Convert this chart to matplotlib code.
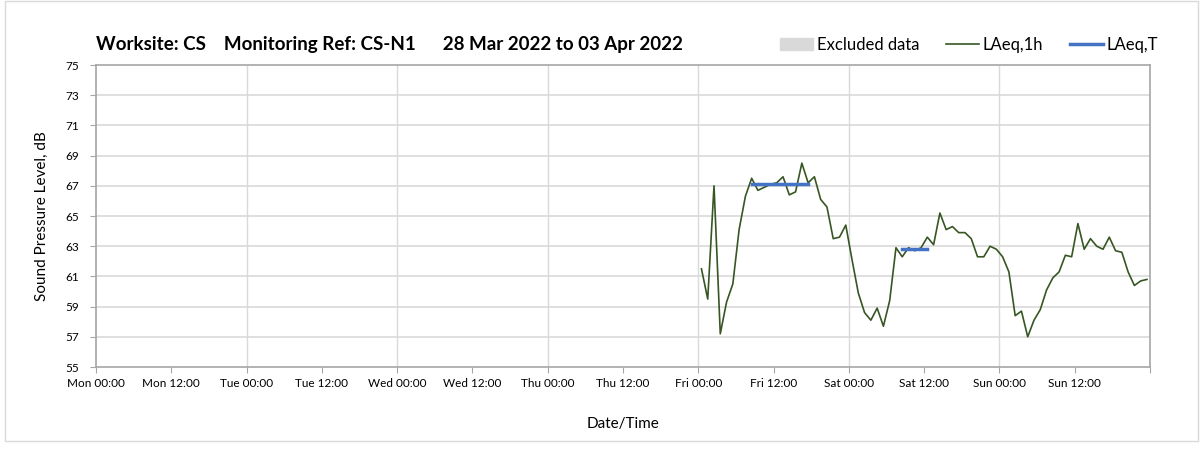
import matplotlib.pyplot as plt
import matplotlib.patches as mpatches
from matplotlib.lines import Line2D
import numpy as np

plt.rcParams['font.family'] = ['Lato', 'DejaVu Sans']

# hourly LAeq,1h values from Fri 00:00 to Sun 23:00 (plotted at mid-hour)
start_hour = 96
laeq_1h = [
    61.5, 59.5, 67.0, 57.2, 59.3, 60.5, 64.1, 66.3, 67.5, 66.7, 66.9, 67.1,
    67.2, 67.6, 66.4, 66.6, 68.5, 67.2, 67.6, 66.1, 65.6, 63.5, 63.6, 64.4,
    62.1, 59.9, 58.6, 58.1, 58.9, 57.7, 59.4, 62.9, 62.3, 62.9, 62.7, 62.9,
    63.6, 63.1, 65.2, 64.1, 64.3, 63.9, 63.9, 63.5, 62.3, 62.3, 63.0, 62.8,
    62.3, 61.3, 58.4, 58.7, 57.0, 58.1, 58.8, 60.1, 60.9, 61.3, 62.4, 62.3,
    64.5, 62.8, 63.5, 63.0, 62.8, 63.6, 62.7, 62.6, 61.3, 60.4, 60.7, 60.8,
]

# LAeq,T over working periods: (first hour, last hour, level)
laeq_t_periods = [(104, 113, 67.1), (128, 132, 62.8)]

tick_labels = ['Mon 00:00', 'Mon 12:00', 'Tue 00:00', 'Tue 12:00', 'Wed 00:00',
               'Wed 12:00', 'Thu 00:00', 'Thu 12:00', 'Fri 00:00', 'Fri 12:00',
               'Sat 00:00', 'Sat 12:00', 'Sun 00:00', 'Sun 12:00', '']

green = '#375623'
blue = '#4472C4'
grid_c = '#D9D9D9'
axis_c = '#A6A6A6'

fig = plt.figure(figsize=(12.03, 4.49), dpi=100)
ax = fig.add_axes([0.0798, 0.1826, 0.8762, 0.6726])

# outer chart border
fig.patches.append(mpatches.Rectangle((0.004, 0.018), 0.992, 0.98, transform=fig.transFigure,
                                      fill=False, edgecolor='#D9D9D9', linewidth=1))

hours = start_hour + 0.5 + np.arange(len(laeq_1h))
ax.plot(hours, laeq_1h, color=green, linewidth=1.2, zorder=3)

for h0, h1, lvl in laeq_t_periods:
    ax.plot([h0 + 0.5, h1 + 0.5], [lvl, lvl], color=blue, linewidth=2.5, zorder=4)

ax.set_xlim(0, 168)
ax.set_ylim(55, 75)
ax.set_xticks(np.arange(0, 169, 12))
ax.set_xticklabels(tick_labels, fontsize=8.5)
ax.set_yticks(np.arange(55, 76, 2))
ax.tick_params(axis='y', labelsize=8.5, length=4, color=axis_c, direction='out', pad=8)
ax.tick_params(axis='x', length=4, color=axis_c, direction='out', pad=4)

# vertical grid every 24h, horizontal every 2 dB
for x in range(24, 168, 24):
    ax.axvline(x, color=grid_c, linewidth=1, zorder=1)
for y in range(57, 75, 2):
    ax.axhline(y, color=grid_c, linewidth=1.2, zorder=1)

for s in ax.spines.values():
    s.set_color(axis_c)
    s.set_linewidth(1.2)

ax.set_ylabel('Sound Pressure Level, dB', fontsize=11, labelpad=12)
ax.set_xlabel('Date/Time', fontsize=11, labelpad=20)

fig.text(0.0798, 0.9, 'Worksite: CS    Monitoring Ref: CS-N1      28 Mar 2022 to 03 Apr 2022',
         fontsize=13.5, fontweight='bold', ha='left', va='center')

handles = [
    mpatches.Patch(color=grid_c, label='Excluded data'),
    Line2D([], [], color=green, linewidth=1.2, label='LAeq,1h'),
    Line2D([], [], color=blue, linewidth=2.5, label='LAeq,T'),
]
fig.legend(handles=handles, loc='center right', bbox_to_anchor=(0.975, 0.9), ncol=3,
           frameon=False, fontsize=12, handlelength=2.0, handletextpad=0.2,
           columnspacing=1.6)

fig.savefig('out.png', dpi=100)
